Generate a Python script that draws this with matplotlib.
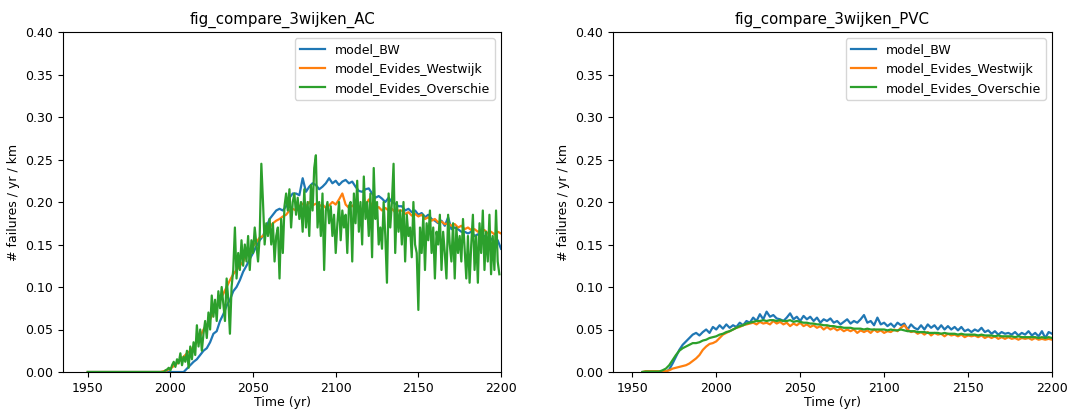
import numpy as np
import matplotlib
matplotlib.use("agg")
from matplotlib import pyplot as plt

# ---- AC: failures / yr / km ----
# model_BW, every 2 years from 1950
ac_bw = [0.0] * 30 + [
    0.004, 0.008, 0.012, 0.015, 0.020, 0.025, 0.028, 0.035, 0.045, 0.048,
    0.060, 0.068, 0.078, 0.085, 0.095, 0.100, 0.108, 0.118, 0.125, 0.133,
    0.140, 0.148, 0.155, 0.160, 0.170, 0.180, 0.185, 0.190, 0.192, 0.190,
    0.195, 0.205, 0.210, 0.210, 0.208, 0.228, 0.212, 0.218, 0.222, 0.220,
    0.215, 0.218, 0.222, 0.228, 0.222, 0.225, 0.220, 0.224, 0.226, 0.222,
    0.224, 0.218, 0.213, 0.212, 0.215, 0.216, 0.210, 0.205, 0.207, 0.204,
    0.200, 0.205, 0.200, 0.198, 0.195, 0.195, 0.190, 0.192, 0.188, 0.190,
    0.185, 0.187, 0.182, 0.185, 0.180, 0.178, 0.175, 0.178, 0.172, 0.182,
    0.168, 0.170, 0.168, 0.165, 0.165, 0.163, 0.165, 0.160, 0.162, 0.158,
    0.160, 0.155, 0.157, 0.152, 0.155, 0.145]

# model_Evides_Westwijk, every 2 years from 1950
ac_west = [0.0] * 23 + [
    0.001, 0.002, 0.004, 0.007, 0.010, 0.014, 0.018, 0.022, 0.025, 0.030,
    0.035, 0.042, 0.050, 0.055, 0.062, 0.070, 0.078, 0.085, 0.092, 0.100,
    0.108, 0.115, 0.120, 0.125, 0.130, 0.138, 0.142, 0.148, 0.153, 0.158,
    0.160, 0.165, 0.170, 0.175, 0.178, 0.180, 0.183, 0.185, 0.190, 0.192,
    0.190, 0.195, 0.198, 0.195, 0.200, 0.196, 0.198, 0.195, 0.197, 0.193,
    0.196, 0.200, 0.197, 0.203, 0.210, 0.197, 0.193, 0.196, 0.192, 0.195,
    0.190, 0.196, 0.203, 0.195, 0.192, 0.194, 0.190, 0.193, 0.190, 0.192,
    0.188, 0.190, 0.190, 0.186, 0.188, 0.184, 0.186, 0.183, 0.185, 0.180,
    0.182, 0.178, 0.180, 0.176, 0.177, 0.174, 0.175, 0.172, 0.174, 0.170,
    0.172, 0.168, 0.170, 0.167, 0.168, 0.165, 0.166, 0.167, 0.163, 0.165,
    0.162, 0.165, 0.163]

# model_Evides_Overschie, yearly from 1950 (rows of 10 from 1997)
ac_over = [0.0] * 47 + [
    0.002, 0.003, 0.005, 0.002, 0.008, 0.012, 0.006, 0.015, 0.010, 0.022,
    0.008, 0.018, 0.012, 0.025, 0.005, 0.030, 0.015, 0.035, 0.020, 0.055,
    0.030, 0.050, 0.025, 0.045, 0.060, 0.040, 0.070, 0.050, 0.090, 0.065,
    0.085, 0.060, 0.095, 0.075, 0.100, 0.080, 0.060, 0.110, 0.085, 0.045,
    0.100, 0.120, 0.170, 0.110, 0.140, 0.120, 0.155, 0.125, 0.150, 0.130,
    0.160, 0.120, 0.155, 0.140, 0.170, 0.150, 0.130, 0.160, 0.245, 0.200,
    0.150, 0.175, 0.160, 0.180, 0.150, 0.175, 0.130, 0.160, 0.170, 0.110,
    0.180, 0.140, 0.195, 0.210, 0.190, 0.215, 0.170, 0.200, 0.210, 0.185,
    0.205, 0.180, 0.200, 0.165, 0.215, 0.170, 0.200, 0.160, 0.220, 0.190,
    0.240, 0.255, 0.170, 0.200, 0.160, 0.210, 0.120, 0.190, 0.200, 0.175,
    0.195, 0.160, 0.185, 0.140, 0.175, 0.200, 0.155, 0.190, 0.170, 0.185,
    0.140, 0.195, 0.200, 0.130, 0.210, 0.175, 0.225, 0.165, 0.200, 0.150,
    0.230, 0.180, 0.200, 0.160, 0.210, 0.135, 0.240, 0.180, 0.200, 0.150,
    0.170, 0.145, 0.200, 0.160, 0.105, 0.210, 0.170, 0.200, 0.245, 0.140,
    0.200, 0.165, 0.190, 0.150, 0.200, 0.130, 0.185, 0.160, 0.170, 0.135,
    0.200, 0.150, 0.140, 0.073, 0.170, 0.140, 0.185, 0.120, 0.175, 0.155,
    0.190, 0.140, 0.170, 0.110, 0.165, 0.150, 0.185, 0.120, 0.165, 0.140,
    0.110, 0.185, 0.150, 0.130, 0.175, 0.110, 0.170, 0.140, 0.160, 0.130,
    0.180, 0.145, 0.110, 0.160, 0.105, 0.150, 0.185, 0.120, 0.160, 0.105,
    0.175, 0.140, 0.190, 0.120, 0.165, 0.130, 0.185, 0.115, 0.160, 0.120,
    0.190, 0.130, 0.115]

# ---- PVC: failures / yr / km, every 2 years from 1956 ----
pvc_bw = [0.0] * 8 + [
    0.003, 0.010, 0.018, 0.026, 0.032, 0.036, 0.040, 0.044, 0.046, 0.043,
    0.047, 0.050, 0.046, 0.053, 0.050, 0.055, 0.051, 0.056, 0.052, 0.055,
    0.053, 0.058, 0.055, 0.060, 0.058, 0.064, 0.060, 0.068, 0.062, 0.071,
    0.065, 0.067, 0.063, 0.062, 0.060, 0.064, 0.069, 0.062, 0.065, 0.060,
    0.066, 0.062, 0.065, 0.060, 0.064, 0.058, 0.062, 0.060, 0.063, 0.058,
    0.060, 0.056, 0.059, 0.062, 0.057, 0.060, 0.058, 0.062, 0.067, 0.058,
    0.060, 0.055, 0.064, 0.056, 0.058, 0.054, 0.057, 0.053, 0.058, 0.055,
    0.057, 0.050, 0.056, 0.052, 0.050, 0.055, 0.050, 0.056, 0.052, 0.055,
    0.050, 0.055, 0.050, 0.054, 0.050, 0.053, 0.049, 0.053, 0.048, 0.050,
    0.047, 0.050, 0.048, 0.052, 0.047, 0.049, 0.045, 0.048, 0.044, 0.047,
    0.045, 0.046, 0.044, 0.047, 0.043, 0.046, 0.044, 0.048, 0.043, 0.046,
    0.042, 0.048, 0.040, 0.047, 0.045]

pvc_west = [
    0.0, 0.001, 0.001, 0.001, 0.001, 0.001, 0.001, 0.001,
    0.002, 0.004, 0.005, 0.006, 0.007, 0.008, 0.010, 0.013, 0.016, 0.020,
    0.026, 0.030, 0.033, 0.034, 0.036, 0.040, 0.044, 0.046, 0.048, 0.050,
    0.052, 0.053, 0.055, 0.056, 0.057, 0.058, 0.056, 0.059, 0.057, 0.058,
    0.056, 0.060, 0.057, 0.059, 0.056, 0.058, 0.054, 0.057, 0.055, 0.058,
    0.054, 0.056, 0.053, 0.055, 0.052, 0.054, 0.050, 0.053, 0.050, 0.052,
    0.049, 0.051, 0.048, 0.050, 0.048, 0.050, 0.046, 0.049, 0.047, 0.049,
    0.046, 0.050, 0.047, 0.049, 0.046, 0.048, 0.047, 0.050, 0.048, 0.052,
    0.055, 0.050, 0.047, 0.048, 0.045, 0.047, 0.044, 0.047, 0.043, 0.046,
    0.044, 0.045, 0.042, 0.045, 0.043, 0.044, 0.042, 0.044, 0.041, 0.043,
    0.042, 0.043, 0.041, 0.043, 0.040, 0.042, 0.040, 0.042, 0.039, 0.041,
    0.039, 0.041, 0.039, 0.040, 0.038, 0.040, 0.039, 0.040, 0.038, 0.040,
    0.038, 0.039, 0.038, 0.039, 0.038]

pvc_over = [
    0.0, 0.0005, 0.0005, 0.0005, 0.0005, 0.0005, 0.002, 0.004,
    0.008, 0.014, 0.020, 0.025, 0.028, 0.030, 0.032, 0.034, 0.034, 0.035,
    0.037, 0.038, 0.040, 0.041, 0.042, 0.044, 0.045, 0.047, 0.048, 0.050,
    0.052, 0.054, 0.055, 0.057, 0.058, 0.059, 0.060, 0.060, 0.061, 0.060,
    0.061, 0.061, 0.060, 0.061, 0.060, 0.060, 0.061, 0.059, 0.060, 0.059,
    0.058, 0.058, 0.057, 0.057, 0.056, 0.056, 0.055, 0.055, 0.054, 0.054,
    0.053, 0.053, 0.052, 0.052, 0.052, 0.051, 0.051, 0.051, 0.050, 0.051,
    0.050, 0.050, 0.050, 0.050, 0.050, 0.049, 0.050, 0.049, 0.049, 0.050,
    0.049, 0.048, 0.048, 0.048, 0.047, 0.047, 0.047, 0.046, 0.046, 0.046,
    0.046, 0.045, 0.046, 0.045, 0.045, 0.045, 0.044, 0.045, 0.044, 0.044,
    0.044, 0.044, 0.043, 0.044, 0.043, 0.043, 0.043, 0.042, 0.043, 0.042,
    0.042, 0.042, 0.042, 0.041, 0.042, 0.041, 0.041, 0.041, 0.041, 0.041,
    0.040, 0.041, 0.040, 0.041, 0.040]

labels = ["model_BW", "model_Evides_Westwijk", "model_Evides_Overschie"]
colors = ["#1f77b4", "#ff7f0e", "#2ca02c"]


def years(values, start, step):
    return start + step * np.arange(len(values))


plt.rcParams["font.size"] = 9

fig = plt.figure(figsize=(10.89, 4.12), dpi=100)
ax1 = fig.add_axes([63 / 1089, 40 / 412, 438 / 1089, 340 / 412])
ax2 = fig.add_axes([613 / 1089, 40 / 412, 439 / 1089, 340 / 412])

panels = [
    (ax1, "fig_compare_3wijken_AC",
     [(ac_bw, 1950, 2), (ac_west, 1950, 2), (ac_over, 1950, 1)], 1935),
    (ax2, "fig_compare_3wijken_PVC",
     [(pvc_bw, 1956, 2), (pvc_west, 1956, 2), (pvc_over, 1956, 2)], 1938.5),
]

for ax, title, series, x0 in panels:
    for (vals, start, step), lab, c in zip(series, labels, colors):
        ax.plot(years(vals, start, step), vals, color=c, lw=1.6, label=lab)
    ax.set_xlim(x0, 2200)
    ax.set_ylim(0, 0.4)
    ax.set_xticks([1950, 2000, 2050, 2100, 2150, 2200])
    ax.set_title(title, fontsize=10.8)
    ax.set_xlabel("Time (yr)", labelpad=1)
    ax.set_ylabel("# failures / yr / km")
    ax.legend(loc="upper right")

fig.savefig("out.png", dpi=100)
